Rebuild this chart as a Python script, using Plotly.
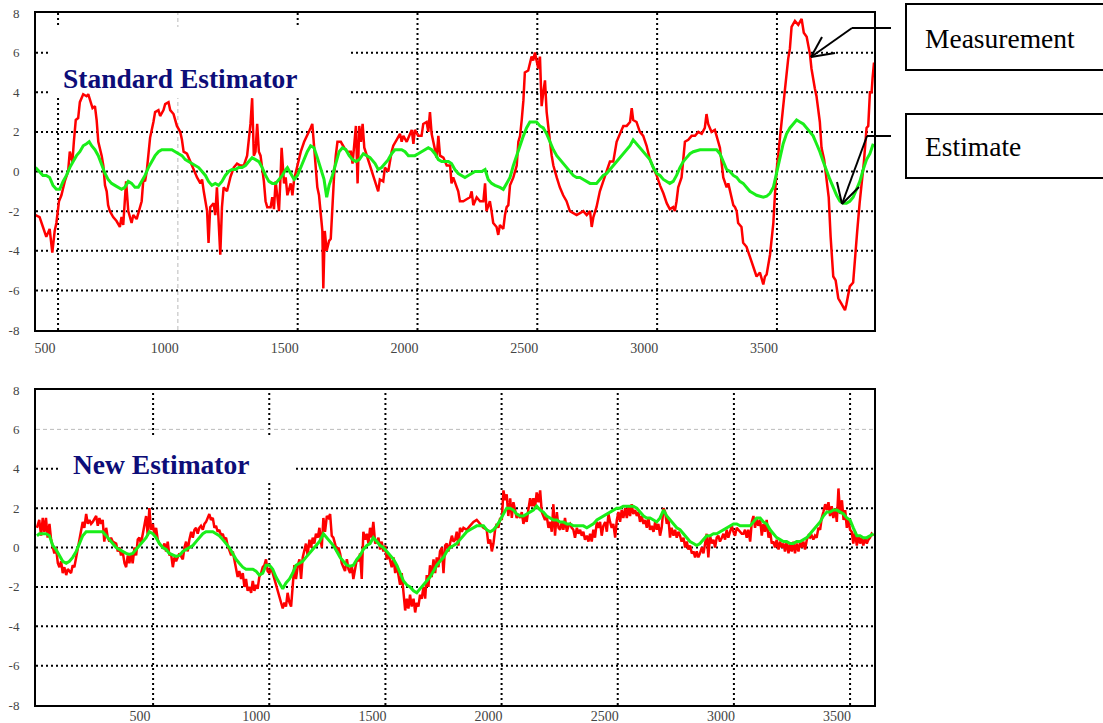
import plotly.graph_objects as go

# ---------------- data ----------------
# Standard estimator panel
std_meas_x = [406, 423, 437, 451, 465, 476, 486, 493, 504, 514, 528, 542, 549, 560, 566, 574, 584, 591, 605, 619,
              626, 635, 644, 654, 661, 668, 675, 682, 689, 696, 703, 709, 716, 730, 744, 758, 765, 772, 784, 793,
              807, 814, 828, 842, 849, 856, 863, 870, 877, 884, 898, 905, 919, 926, 940, 947, 961, 968, 982, 996,
              1010, 1017, 1024, 1038, 1052, 1066, 1080, 1094, 1101, 1108, 1122, 1128, 1135, 1149, 1156, 1163, 1170, 1177, 1184, 1191,
              1205, 1219, 1233, 1247, 1261, 1275, 1289, 1296, 1303, 1310, 1317, 1324, 1331, 1338, 1345, 1359, 1366, 1373, 1387, 1394,
              1401, 1408, 1415, 1422, 1429, 1433, 1443, 1450, 1457, 1471, 1478, 1485, 1499, 1513, 1527, 1540, 1554, 1561, 1568, 1575,
              1582, 1589, 1596, 1603, 1607, 1613, 1621, 1631, 1638, 1645, 1652, 1659, 1666, 1680, 1694, 1708, 1722, 1729, 1743, 1750,
              1757, 1764, 1771, 1778, 1788, 1802, 1816, 1830, 1836, 1843, 1857, 1864, 1878, 1892, 1899, 1913, 1927, 1934, 1941, 1955,
              1969, 1976, 1983, 1989, 2003, 2017, 2024, 2038, 2045, 2052, 2059, 2073, 2080, 2087, 2094, 2108, 2122, 2136, 2142, 2149,
              2163, 2170, 2177, 2191, 2205, 2219, 2226, 2233, 2247, 2261, 2275, 2282, 2288, 2302, 2309, 2316, 2330, 2337, 2344, 2358,
              2365, 2372, 2379, 2386, 2400, 2414, 2421, 2428, 2435, 2442, 2448, 2462, 2476, 2483, 2490, 2497, 2504, 2511, 2518, 2525,
              2532, 2539, 2546, 2553, 2560, 2567, 2581, 2594, 2608, 2622, 2636, 2650, 2664, 2678, 2692, 2706, 2720, 2727, 2734, 2747,
              2761, 2775, 2789, 2803, 2817, 2831, 2845, 2859, 2873, 2887, 2894, 2900, 2914, 2928, 2942, 2956, 2970, 2984, 2998, 3012,
              3026, 3040, 3053, 3067, 3074, 3081, 3088, 3102, 3116, 3130, 3144, 3158, 3172, 3186, 3199, 3206, 3213, 3227, 3241, 3248,
              3262, 3276, 3290, 3297, 3304, 3318, 3325, 3332, 3338, 3352, 3359, 3373, 3387, 3401, 3415, 3429, 3443, 3450, 3457, 3471,
              3485, 3491, 3498, 3510, 3519, 3533, 3547, 3554, 3561, 3575, 3589, 3603, 3612, 3624, 3638, 3644, 3658, 3665, 3679, 3686,
              3697, 3707, 3716, 3724, 3735, 3745, 3756, 3770, 3784, 3790, 3804, 3818, 3825, 3835, 3845, 3853, 3863, 3874, 3881, 3888,
              3895, 3899, 3905]
std_meas_y = [-2.2, -2.3, -2.8, -3.3, -2.9, -4.1, -3.0, -2.6, -1.5, -1.2, -0.5, 0.0, 1.0, 0.5, 1.5, 2.6, 2.7, 3.5, 3.9, 3.8,
              3.9, 3.6, 3.2, 3.3, 2.6, 1.5, 1.2, 0.8, 0.3, -0.7, -1.0, -1.7, -2.0, -2.3, -2.5, -2.8, -2.3, -2.7, -0.5, -2.0,
              -2.6, -2.2, -2.4, -1.8, -1.5, -0.4, -0.5, 0.0, 0.9, 1.7, 2.5, 3.0, 3.1, 2.8, 3.1, 3.4, 3.5, 3.1, 2.9, 2.3,
              2.0, 1.6, 1.0, 0.9, 0.5, 0.1, -0.3, -0.6, -0.4, -1.0, -2.0, -3.6, -1.8, -1.6, -2.2, -0.8, -2.2, -4.2, -1.8, -0.8,
              -1.0, -0.3, 0.2, 0.4, 0.3, 0.3, 0.8, 1.5, 2.4, 3.7, 0.8, 1.0, 2.4, 1.0, 0.8, -0.5, -1.5, -1.8, -1.8, -1.3,
              -1.9, -0.5, -1.3, -2.0, -0.1, 1.2, -0.6, -0.3, -1.2, -0.6, -1.2, -0.4, 0.3, 1.0, 1.5, 1.8, 2.2, 2.4, 1.4, 0.5,
              -0.8, -1.2, -2.0, -3.0, -5.9, -3.0, -4.0, -3.5, -3.4, -1.5, -0.2, 0.8, 1.5, 1.5, 1.2, 1.0, 1.0, 0.4, 2.3, -0.6,
              2.3, 1.5, 2.4, 1.2, 0.8, 0.3, -0.3, -0.8, -1.0, -0.4, -0.5, 0.2, 0.0, 1.0, 1.3, 1.6, 1.9, 1.5, 1.8, 1.5,
              1.9, 2.1, 1.4, 2.1, 1.8, 1.8, 2.4, 2.5, 2.0, 3.0, 1.9, 1.2, 0.7, 1.8, 0.8, 0.7, 0.3, 0.3, -0.6, -0.3,
              -0.8, -1.0, -1.5, -1.5, -1.4, -1.3, -1.0, -1.7, -1.3, -1.5, -1.5, -0.6, -2.0, -1.5, -2.0, -2.6, -2.8, -3.2, -2.7, -2.9,
              -2.2, -1.8, -1.7, -0.7, -0.3, 0.3, 1.5, 1.8, 2.6, 3.6, 5.0, 5.1, 5.8, 5.6, 6.0, 5.5, 5.2, 5.8, 3.3, 4.0,
              4.6, 3.0, 2.1, 1.5, 0.8, 0.3, -0.3, -0.8, -1.2, -1.5, -2.0, -2.1, -2.2, -2.1, -2.0, -2.2, -2.0, -2.8, -2.3, -1.8,
              -1.0, -0.5, 0.0, 0.5, 0.5, 1.5, 1.9, 2.3, 2.3, 2.5, 3.2, 2.6, 2.5, 2.0, 1.8, 1.3, 0.6, 0.2, -0.2, -0.7,
              -1.1, -1.6, -1.9, -1.8, -2.0, -1.5, -0.8, -0.3, 1.5, 1.6, 1.8, 1.8, 2.0, 1.9, 2.2, 2.9, 2.4, 2.0, 2.1, 1.8,
              1.2, -0.3, -0.8, -0.6, -1.0, -1.7, -1.8, -2.0, -2.6, -2.8, -3.6, -3.8, -4.3, -4.8, -5.3, -5.1, -5.7, -5.3, -5.2, -4.2,
              -2.6, -1.3, 0.0, 1.4, 2.6, 4.1, 5.7, 6.2, 7.3, 7.6, 7.4, 7.7, 7.0, 6.8, 5.9, 5.2, 4.2, 3.8, 2.5, 1.2,
              0.6, -0.5, -1.3, -3.3, -5.3, -5.5, -6.4, -6.7, -7.0, -6.7, -5.8, -5.6, -4.3, -3.0, -1.6, -0.7, 0.5, 2.2, 2.3, 4.0,
              4.0, 4.7, 5.5]

std_est_x = [406, 423, 437, 451, 465, 479, 493, 507, 521, 535, 549, 563, 577, 591, 605, 619, 630, 640, 654, 668,
             682, 696, 709, 723, 737, 751, 765, 779, 793, 807, 821, 835, 849, 863, 877, 891, 905, 919, 933, 947,
             961, 975, 989, 1003, 1017, 1031, 1045, 1059, 1073, 1087, 1101, 1115, 1128, 1142, 1156, 1170, 1184, 1198, 1212, 1226,
             1240, 1254, 1268, 1282, 1296, 1310, 1324, 1338, 1352, 1366, 1380, 1394, 1408, 1422, 1436, 1450, 1457, 1471, 1485, 1499,
             1513, 1527, 1540, 1554, 1568, 1582, 1596, 1610, 1621, 1631, 1645, 1659, 1673, 1687, 1701, 1715, 1729, 1743, 1757, 1774,
             1788, 1802, 1823, 1836, 1850, 1864, 1878, 1892, 1906, 1920, 1934, 1948, 1962, 1976, 1989, 2003, 2017, 2031, 2045, 2059,
             2073, 2087, 2101, 2115, 2129, 2142, 2156, 2170, 2184, 2198, 2212, 2226, 2240, 2254, 2268, 2282, 2295, 2309, 2323, 2344,
             2358, 2372, 2386, 2400, 2414, 2428, 2442, 2455, 2469, 2483, 2497, 2511, 2525, 2539, 2553, 2567, 2581, 2594, 2608, 2622,
             2636, 2650, 2664, 2678, 2692, 2706, 2720, 2734, 2747, 2761, 2775, 2789, 2803, 2817, 2831, 2845, 2859, 2873, 2887, 2900,
             2914, 2928, 2942, 2956, 2970, 2984, 2998, 3012, 3026, 3040, 3053, 3067, 3081, 3095, 3109, 3123, 3137, 3151, 3179, 3206,
             3234, 3248, 3262, 3276, 3290, 3304, 3318, 3332, 3345, 3359, 3373, 3387, 3401, 3415, 3429, 3443, 3457, 3471, 3485, 3498,
             3512, 3526, 3540, 3554, 3568, 3582, 3596, 3610, 3624, 3638, 3651, 3665, 3679, 3693, 3707, 3721, 3735, 3749, 3763, 3777,
             3790, 3804, 3818, 3832, 3846, 3860, 3874, 3888, 3902]
std_est_y = [0.2, 0.0, -0.2, -0.2, -0.3, -0.7, -0.9, -0.9, -0.5, -0.2, 0.2, 0.5, 0.8, 1.0, 1.3, 1.4, 1.5, 1.3, 1.1, 0.8,
             0.3, -0.1, -0.4, -0.6, -0.7, -0.8, -0.9, -0.8, -0.5, -0.6, -0.8, -0.8, -0.5, -0.2, 0.2, 0.5, 0.8, 1.0, 1.1, 1.1,
             1.1, 1.1, 1.0, 0.9, 0.8, 0.6, 0.5, 0.4, 0.3, 0.2, 0.0, -0.2, -0.5, -0.7, -0.6, -0.7, -0.5, -0.2, 0.0, 0.1,
             0.1, 0.2, 0.2, 0.3, 0.5, 0.7, 0.6, 0.5, 0.2, -0.2, -0.5, -0.6, -0.6, -0.4, -0.2, 0.1, 0.2, -0.1, -0.4, -0.2,
             0.2, 0.6, 1.0, 1.3, 1.2, 0.7, 0.1, -0.4, -1.3, -0.7, -0.2, 0.4, 1.0, 1.2, 1.1, 0.8, 0.6, 0.5, 0.6, 0.9,
             0.8, 0.7, 0.4, 0.1, 0.2, 0.4, 0.6, 0.9, 1.1, 1.1, 1.1, 1.0, 0.8, 0.8, 0.8, 0.9, 1.0, 1.1, 1.2, 1.1,
             0.9, 0.6, 0.5, 0.5, 0.5, 0.4, 0.1, -0.1, -0.2, -0.3, -0.2, -0.1, 0.0, 0.0, 0.0, 0.1, -0.4, -0.6, -0.7, -0.8,
             -0.9, -0.6, -0.3, 0.3, 0.8, 1.4, 1.8, 2.2, 2.5, 2.5, 2.5, 2.3, 2.2, 1.9, 1.5, 1.1, 0.8, 0.6, 0.4, 0.2,
             0.0, -0.2, -0.3, -0.3, -0.4, -0.5, -0.6, -0.6, -0.6, -0.4, -0.2, -0.1, 0.1, 0.3, 0.5, 0.7, 0.9, 1.1, 1.3, 1.6,
             1.4, 1.2, 1.0, 0.8, 0.6, 0.2, -0.1, -0.2, -0.4, -0.5, -0.6, -0.5, -0.2, 0.2, 0.5, 0.7, 0.9, 1.0, 1.1, 1.1,
             1.1, 1.1, 0.9, 0.5, 0.1, 0.0, -0.2, -0.3, -0.5, -0.6, -0.8, -1.0, -1.1, -1.2, -1.25, -1.3, -1.25, -1.1, -0.8, -0.1,
             0.8, 1.4, 1.9, 2.2, 2.4, 2.6, 2.5, 2.4, 2.2, 2.0, 1.8, 1.4, 1.0, 0.5, 0.0, -0.4, -0.8, -1.2, -1.5, -1.6,
             -1.6, -1.5, -1.3, -0.9, -0.5, 0.1, 0.6, 0.9, 1.4]

# New estimator panel
new_meas_x = [0, 10, 18, 25, 32, 39, 46, 54, 61, 68, 75, 82, 90, 97, 104, 111, 118, 126, 133, 140,
              147, 154, 161, 169, 176, 183, 190, 197, 204, 212, 219, 226, 233, 240, 255, 262, 269, 276, 283, 290,
              298, 305, 312, 319, 326, 341, 348, 355, 362, 369, 377, 384, 391, 398, 405, 412, 420, 427, 434, 441,
              448, 456, 463, 470, 477, 484, 491, 499, 506, 513, 520, 527, 542, 549, 556, 563, 570, 577, 585, 592,
              599, 613, 628, 635, 642, 649, 656, 664, 671, 678, 685, 692, 699, 706, 714, 721, 728, 735, 742, 749,
              757, 764, 771, 778, 785, 793, 800, 807, 814, 821, 828, 836, 843, 850, 857, 864, 871, 879, 886, 893,
              900, 907, 914, 922, 929, 936, 943, 950, 957, 965, 972, 979, 986, 993, 1001, 1008, 1015, 1022, 1029, 1037,
              1044, 1051, 1058, 1065, 1072, 1079, 1087, 1094, 1101, 1108, 1115, 1123, 1130, 1137, 1144, 1151, 1158, 1165, 1173, 1180,
              1187, 1194, 1201, 1209, 1216, 1226, 1233, 1240, 1248, 1255, 1262, 1269, 1276, 1283, 1291, 1298, 1305, 1312, 1319, 1326,
              1334, 1341, 1348, 1355, 1362, 1369, 1377, 1384, 1391, 1398, 1405, 1413, 1420, 1427, 1434, 1441, 1448, 1456, 1463, 1470,
              1477, 1484, 1491, 1499, 1506, 1513, 1520, 1527, 1535, 1542, 1549, 1556, 1563, 1570, 1578, 1585, 1592, 1599, 1606, 1613,
              1621, 1628, 1635, 1642, 1649, 1656, 1664, 1671, 1678, 1685, 1692, 1699, 1707, 1714, 1721, 1728, 1735, 1743, 1750, 1757,
              1764, 1771, 1778, 1786, 1793, 1800, 1807, 1814, 1821, 1829, 1836, 1850, 1864, 1879, 1893, 1907, 1922, 1936, 1943, 1951,
              1958, 1965, 1972, 1979, 1986, 1994, 2001, 2008, 2015, 2022, 2029, 2037, 2044, 2051, 2058, 2065, 2072, 2080, 2087, 2094,
              2101, 2108, 2115, 2123, 2130, 2137, 2144, 2151, 2159, 2166, 2173, 2180, 2187, 2194, 2202, 2209, 2216, 2223, 2230, 2238,
              2245, 2252, 2259, 2266, 2273, 2281, 2288, 2295, 2302, 2309, 2316, 2324, 2331, 2338, 2345, 2352, 2359, 2367, 2374, 2381,
              2388, 2395, 2402, 2410, 2417, 2424, 2431, 2438, 2446, 2453, 2460, 2467, 2474, 2481, 2489, 2496, 2503, 2510, 2517, 2524,
              2532, 2539, 2546, 2553, 2560, 2567, 2575, 2582, 2589, 2596, 2603, 2611, 2618, 2625, 2632, 2639, 2646, 2654, 2661, 2668,
              2675, 2682, 2689, 2697, 2704, 2711, 2718, 2725, 2732, 2740, 2747, 2754, 2761, 2768, 2775, 2783, 2790, 2797, 2804, 2811,
              2819, 2826, 2833, 2840, 2847, 2854, 2862, 2869, 2876, 2883, 2890, 2897, 2905, 2912, 2919, 2926, 2933, 2940, 2948, 2955,
              2962, 2969, 2976, 2984, 2991, 2998, 3005, 3012, 3019, 3027, 3034, 3041, 3048, 3055, 3062, 3070, 3077, 3084, 3091, 3098,
              3105, 3113, 3120, 3127, 3134, 3141, 3149, 3156, 3163, 3170, 3177, 3184, 3192, 3199, 3206, 3213, 3220, 3227, 3235, 3242,
              3249, 3256, 3263, 3270, 3278, 3285, 3292, 3299, 3306, 3314, 3321, 3328, 3335, 3342, 3349, 3356, 3364, 3371, 3378, 3385,
              3393, 3400, 3407, 3414, 3421, 3428, 3436, 3443, 3450, 3457, 3465, 3472, 3479, 3486, 3493, 3500, 3507, 3514, 3521, 3529,
              3536, 3543, 3550, 3557, 3565, 3572, 3579, 3586, 3593, 3601]
new_meas_y = [1.0, 1.4, 0.6, 1.5, 0.8, 1.5, 0.5, 1.2, 0.4, 0.0, -0.3, 0.0, -0.8, -1.0, -0.7, -1.3, -1.0, -1.4, -1.1, -1.2,
              -1.3, -0.9, -1.0, -0.5, 0.0, 0.3, 0.8, 1.3, 1.0, 1.7, 1.2, 1.4, 1.2, 1.3, 1.6, 1.1, 1.5, 1.2, 1.4, 0.3,
              1.0, 0.5, 0.3, 0.5, 0.3, 0.2, -0.2, 0.0, -0.4, -0.2, -0.8, -1.0, -0.4, -0.8, -0.3, -0.8, 0.0, -0.4, 0.4, 0.5,
              0.2, 0.7, 1.0, 1.6, 0.6, 2.0, 0.9, 1.2, 0.6, 1.0, 0.4, 0.2, 0.0, 0.2, -0.2, 0.3, -0.4, -0.3, -1.0, -0.5,
              -0.7, -0.3, -0.6, 0.0, 0.3, -0.2, 0.4, 0.8, 0.5, 0.9, 1.0, 0.7, 1.0, 1.1, 0.9, 1.2, 1.3, 1.5, 1.7, 1.4,
              1.5, 1.0, 1.1, 0.8, 0.9, 0.6, 0.7, 0.4, 0.5, 0.1, -0.2, -0.4, -0.2, -0.6, -1.0, -1.5, -1.2, -1.6, -1.3, -2.0,
              -1.6, -2.2, -2.0, -2.3, -1.7, -2.2, -1.9, -2.1, -1.5, -1.3, -1.0, -0.9, -0.6, -1.2, -1.3, -1.0, -1.3, -1.6, -1.9, -2.3,
              -2.6, -2.9, -3.1, -2.8, -3.0, -2.3, -2.8, -3.0, -2.0, -0.9, -1.6, -0.9, -0.6, -1.6, -0.5, -0.1, 0.2, -0.4, 0.4, 0.0,
              0.5, 0.2, 0.7, 0.5, 1.0, 0.0, 1.5, 0.8, 1.6, 1.5, 1.7, 0.6, 0.5, 0.2, -0.2, 0.0, -0.3, -0.8, -1.0, -1.2,
              -0.6, -1.1, -1.3, -0.9, -1.6, -1.2, -0.6, -0.7, -0.3, -1.6, 0.8, 0.4, 0.7, 0.2, 1.0, 0.5, 1.3, 0.2, 0.3, 0.5,
              -0.1, 0.3, -0.2, 0.1, -0.6, -0.3, -0.6, -1.0, -0.5, -1.3, -0.9, -1.4, -1.9, -1.3, -2.3, -3.2, -2.6, -3.1, -2.4, -3.0,
              -2.6, -3.3, -2.8, -3.0, -2.4, -2.6, -2.0, -2.6, -1.4, -2.0, -0.9, -1.5, -0.6, -1.3, -0.5, -1.0, -0.2, 0.0, -1.3, 0.1,
              0.2, -0.2, 0.2, 0.6, 0.3, 0.4, 0.8, 0.1, 1.0, 0.8, 1.0, 0.9, 1.1, 1.3, 1.4, 1.2, 1.0, 0.9, 0.2, 0.4,
              -0.2, 0.2, 0.9, 1.2, 1.0, 1.5, 1.4, 2.9, 2.4, 2.7, 1.6, 2.5, 1.5, 2.3, 1.9, 1.5, 1.7, 1.5, 1.8, 1.2,
              1.6, 1.3, 1.9, 2.5, 2.1, 2.5, 2.0, 2.8, 2.3, 2.9, 1.8, 1.6, 1.4, 1.6, 1.0, 1.3, 0.8, 2.2, 0.6, 1.8,
              1.0, 0.9, 1.3, 0.9, 1.5, 0.8, 1.1, 1.2, 1.0, 0.9, 0.5, 1.0, 0.7, 0.9, 0.6, 0.8, 0.4, 0.6, 0.3, 0.7,
              0.3, 0.9, 0.5, 1.3, 1.0, 1.3, 0.6, 1.1, 1.3, 0.8, 1.7, 1.3, 1.0, 1.2, 0.5, 1.4, 1.8, 1.3, 1.9, 1.5,
              2.0, 1.5, 2.1, 1.6, 2.2, 1.7, 1.9, 1.6, 1.8, 1.3, 1.6, 1.2, 1.4, 1.0, 1.5, 0.9, 1.1, 0.8, 1.3, 0.9,
              1.2, 0.6, 1.0, 2.0, 1.8, 1.2, 1.5, 0.5, 1.0, 0.6, 0.9, 0.5, 0.8, 0.6, 0.3, 0.5, 0.0, 0.3, -0.1, 0.1,
              -0.3, -0.2, -0.5, -0.2, -0.5, -0.3, 0.0, -0.3, 0.3, 0.7, -0.5, 0.6, 0.2, 0.4, 0.0, 0.5, 0.6, 0.3, 0.5, 0.7,
              0.4, 0.9, 0.5, 0.8, 1.1, 0.8, 0.6, 1.0, 0.9, 0.8, 0.7, 0.7, 0.9, 0.5, 0.9, 0.3, 1.3, 1.6, 1.0, 1.5,
              1.1, 1.4, 0.6, 1.2, 0.8, 1.4, 0.5, 0.8, 0.2, 0.3, 0.0, 0.4, -0.1, 0.3, 0.0, 0.2, -0.2, 0.3, -0.3, 0.2,
              -0.2, 0.3, -0.3, 0.2, -0.2, 0.3, 0.0, 0.3, -0.1, 0.4, 0.6, 0.5, 0.6, 0.4, 0.6, 0.5, 1.0, 0.9, 1.5, 1.8,
              2.2, 1.9, 2.3, 1.6, 2.1, 1.5, 2.0, 1.3, 3.0, 1.7, 2.4, 1.4, 1.9, 1.0, 1.4, 0.9, 0.8, 0.2, 0.8, 0.1,
              0.6, 0.2, 0.5, 0.1, 0.5, 0.2, 0.4, 0.5, 0.7, 0.6]

new_est_x = [0, 11, 25, 39, 54, 68, 82, 97, 111, 126, 140, 154, 169, 183, 197, 212, 240, 269, 283, 298,
             312, 326, 341, 355, 369, 384, 398, 412, 427, 441, 456, 470, 484, 499, 513, 527, 542, 556, 570, 585,
             599, 613, 628, 642, 656, 671, 685, 699, 714, 728, 742, 757, 771, 785, 800, 814, 828, 843, 857, 871,
             886, 900, 914, 929, 943, 957, 972, 986, 1001, 1015, 1029, 1044, 1058, 1072, 1087, 1101, 1115, 1130, 1144, 1158,
             1173, 1187, 1201, 1216, 1233, 1248, 1262, 1276, 1291, 1305, 1319, 1334, 1348, 1362, 1377, 1391, 1405, 1420, 1434, 1448,
             1463, 1477, 1491, 1506, 1520, 1535, 1549, 1563, 1578, 1592, 1606, 1621, 1635, 1649, 1664, 1678, 1692, 1707, 1721, 1735,
             1750, 1764, 1778, 1793, 1807, 1821, 1836, 1850, 1864, 1879, 1893, 1907, 1922, 1936, 1951, 1965, 1979, 1994, 2008, 2022,
             2037, 2051, 2065, 2080, 2094, 2108, 2123, 2137, 2151, 2166, 2180, 2194, 2209, 2223, 2238, 2252, 2266, 2281, 2295, 2309,
             2324, 2338, 2352, 2367, 2381, 2395, 2410, 2424, 2438, 2453, 2467, 2481, 2496, 2510, 2524, 2539, 2553, 2567, 2582, 2596,
             2611, 2625, 2639, 2654, 2668, 2682, 2697, 2711, 2725, 2740, 2754, 2768, 2783, 2797, 2811, 2826, 2840, 2854, 2869, 2883,
             2897, 2912, 2926, 2940, 2955, 2969, 2984, 2998, 3012, 3027, 3041, 3055, 3070, 3084, 3098, 3113, 3127, 3141, 3156, 3170,
             3184, 3199, 3213, 3227, 3242, 3256, 3270, 3285, 3299, 3314, 3328, 3342, 3356, 3371, 3385, 3400, 3414, 3428, 3443, 3457,
             3472, 3486, 3500, 3514, 3529, 3543, 3557, 3572, 3586, 3601]
new_est_y = [0.6, 0.7, 0.7, 0.7, 0.6, 0.1, -0.1, -0.4, -0.7, -0.8, -0.7, -0.5, -0.2, 0.2, 0.6, 0.8, 0.8, 0.8, 0.8, 0.6,
             0.4, 0.2, 0.0, -0.1, -0.2, -0.3, -0.35, -0.3, -0.1, 0.1, 0.3, 0.5, 0.8, 0.7, 0.5, 0.2, 0.0, -0.1, -0.3, -0.4,
             -0.45, -0.4, -0.2, -0.1, 0.0, 0.1, 0.3, 0.5, 0.7, 0.8, 0.8, 0.8, 0.7, 0.6, 0.4, 0.2, 0.0, -0.3, -0.6, -0.8,
             -1.0, -1.1, -1.1, -1.1, -1.2, -1.4, -1.3, -0.9, -0.9, -1.1, -1.5, -1.8, -2.1, -1.8, -1.6, -1.3, -0.9, -0.8, -0.7, -0.5,
             -0.3, -0.1, 0.1, 0.3, 0.7, 0.5, 0.3, 0.1, -0.2, -0.5, -0.7, -0.9, -0.95, -0.9, -0.6, -0.4, -0.1, 0.1, 0.2, 0.5,
             0.3, 0.1, 0.0, -0.2, -0.4, -0.6, -0.9, -1.3, -1.7, -1.9, -2.0, -2.2, -2.3, -2.1, -1.9, -1.7, -1.5, -1.2, -0.9, -0.7,
             -0.5, -0.2, 0.0, 0.1, 0.2, 0.4, 0.6, 0.8, 0.9, 1.0, 1.1, 1.1, 1.1, 0.9, 0.8, 0.9, 1.1, 1.4, 1.7, 2.0,
             2.0, 1.9, 1.7, 1.6, 1.6, 1.7, 1.8, 1.9, 2.1, 1.9, 1.8, 1.6, 1.5, 1.4, 1.4, 1.3, 1.3, 1.2, 1.2, 1.1,
             1.1, 1.1, 1.1, 1.0, 1.1, 1.2, 1.4, 1.5, 1.6, 1.7, 1.8, 1.9, 2.0, 2.0, 2.1, 2.1, 2.1, 2.1, 2.0, 1.8,
             1.6, 1.5, 1.5, 1.4, 1.3, 1.5, 1.9, 1.6, 1.4, 1.2, 1.0, 0.9, 0.7, 0.5, 0.3, 0.2, 0.1, 0.2, 0.4, 0.6,
             0.6, 0.7, 0.7, 0.8, 0.9, 1.0, 1.1, 1.2, 1.2, 1.1, 1.1, 1.1, 1.1, 1.3, 1.5, 1.5, 1.3, 1.2, 0.9, 0.7,
             0.5, 0.4, 0.3, 0.3, 0.2, 0.2, 0.3, 0.3, 0.4, 0.5, 0.7, 0.9, 1.1, 1.3, 1.6, 1.8, 1.8, 1.9, 1.9, 1.8,
             1.7, 1.5, 1.4, 1.0, 0.6, 0.6, 0.5, 0.5, 0.6, 0.7]

# axis ticks
y_ticks = [-8, -6, -4, -2, 0, 2, 4, 6, 8]
y_tick_labels = ["-8", "-6", "-4", "-2", "0", "2", "4", "6", "8"]
x_ticks = [500, 1000, 1500, 2000, 2500, 3000, 3500]
x_tick_labels = ["500", "1000", "1500", "2000", "2500", "3000", "3500"]

# ---------------- layout helpers ----------------
W, H = 1103, 723
ML, MR, MT, MB = 36, 229, 13, 18
PW = W - ML - MR
PH = H - MT - MB
TOP_Y0, TOP_Y1 = 330, 13      # pixel rows of the upper panel (bottom, top)
BOT_Y0, BOT_Y1 = 705, 390      # pixel rows of the lower panel (bottom, top)


def fx(p):
    """pixel column -> paper x"""
    return (p - ML) / PW


def fy(p):
    """pixel row -> paper y"""
    return (H - MB - p) / PH


RED = "#ff0000"
GREEN = "#1aee1a"
NAVY = "#0d0d78"
SERIF = "Liberation Serif, Times New Roman, serif"

fig = go.Figure()
fig.add_trace(go.Scatter(x=std_meas_x, y=std_meas_y, mode="lines", line=dict(color=RED, width=2.5),
                         xaxis="x", yaxis="y", name="Measurement"))
fig.add_trace(go.Scatter(x=std_est_x, y=std_est_y, mode="lines", line=dict(color=GREEN, width=3),
                         xaxis="x", yaxis="y", name="Estimate"))
fig.add_trace(go.Scatter(x=new_meas_x, y=new_meas_y, mode="lines", line=dict(color=RED, width=2.5),
                         xaxis="x2", yaxis="y2", name="Measurement"))
fig.add_trace(go.Scatter(x=new_est_x, y=new_est_y, mode="lines", line=dict(color=GREEN, width=3),
                         xaxis="x2", yaxis="y2", name="Estimate"))

y_font = dict(family=SERIF, size=13, color="#444444")
x_font = dict(family=SERIF, size=14, color="#444444")
common_x = dict(tickvals=x_ticks, ticktext=x_tick_labels, showgrid=False, zeroline=False,
                showline=True, linecolor="black", linewidth=2, mirror=True, ticks="",
                tickfont=x_font, ticklabelshift=-13, automargin=False)
common_y = dict(range=[-8, 8], tickvals=y_ticks, ticktext=y_tick_labels, showgrid=False, zeroline=False,
                showline=True, linecolor="black", linewidth=2, mirror=True, ticks="",
                tickfont=y_font, ticklabelstandoff=12, automargin=False)

fig.update_layout(
    width=W, height=H,
    margin=dict(l=ML, r=MR, t=MT, b=MB, autoexpand=False),
    paper_bgcolor="white", plot_bgcolor="white",
    showlegend=False,
    xaxis=dict(domain=[0, 1], range=[408, 3905], anchor="y", ticklabelstandoff=4, **common_x),
    yaxis=dict(domain=[fy(TOP_Y0), fy(TOP_Y1)], anchor="x", **common_y),
    xaxis2=dict(domain=[0, 1], range=[-4, 3603], anchor="y2", ticklabelstandoff=-3, **common_x),
    yaxis2=dict(domain=[fy(BOT_Y0), fy(BOT_Y1)], anchor="x2", **common_y),
)

# dotted grid lines at the tick positions
shapes = []
faint = {("x", 1000), ("y2", 6)}
for xa, ya in (("x", "y"), ("x2", "y2")):
    for v in x_ticks:
        gray = (xa, v) in faint
        shapes.append(dict(type="line", xref=xa, yref=f"{ya} domain", x0=v, x1=v, y0=0, y1=1,
                           layer="below",
                           line=dict(color="#bbbbbb" if gray else "black",
                                     width=1 if gray else 2,
                                     dash="4px,3px" if gray else "2px,3px")))
    for v in y_ticks[1:-1]:
        gray = (ya, v) in faint
        shapes.append(dict(type="line", xref=f"{xa} domain", yref=ya, x0=0, x1=1, y0=v, y1=v,
                           layer="below",
                           line=dict(color="#bbbbbb" if gray else "black",
                                     width=1 if gray else 2,
                                     dash="4px,3px" if gray else "2px,3px")))


def panel_rect(xa, ya, x0, x1, y0, y1, pb, pt):
    """white backing rectangle given in pixel units inside a panel"""
    return dict(type="rect", xref=f"{xa} domain", yref=f"{ya} domain", layer="below",
                x0=(x0 - ML) / PW, x1=(x1 - ML) / PW,
                y0=(pb - y1) / (pb - pt), y1=(pb - y0) / (pb - pt),
                line=dict(width=0), fillcolor="white")


# white backing behind the panel titles
shapes.append(panel_rect("x", "y", 50, 350, 27, 98, TOP_Y0, TOP_Y1))
shapes.append(panel_rect("x2", "y2", 60, 293, 435, 483, BOT_Y0, BOT_Y1))

# callout boxes and leader arrows
box_line = dict(color="black", width=2)
shapes.append(dict(type="rect", xref="paper", yref="paper", x0=fx(906), x1=fx(1112), y0=fy(70), y1=fy(4),
                   line=box_line, fillcolor="white"))
shapes.append(dict(type="rect", xref="paper", yref="paper", x0=fx(906), x1=fx(1112), y0=fy(178), y1=fy(114),
                   line=box_line, fillcolor="white"))
leaders = [
    ((891, 28), (852, 28)), ((852, 28), (811, 57)), ((811, 57), (822, 37)), ((811, 57), (835, 53)),
    ((891, 136), (867, 136)), ((867, 136), (842, 204)), ((842, 204), (837, 182)), ((842, 204), (859, 187)),
]
for (a, b) in leaders:
    shapes.append(dict(type="line", xref="paper", yref="paper", x0=fx(a[0]), y0=fy(a[1]),
                       x1=fx(b[0]), y1=fy(b[1]), line=dict(color="black", width=2)))
fig.update_layout(shapes=shapes)

title_font = dict(family=SERIF, size=27.5, color=NAVY)
label_font = dict(family=SERIF, size=27.5, color="black")
fig.add_annotation(text="<b>Standard Estimator</b>", xref="paper", yref="paper", x=fx(61), y=fy(79),
                   xanchor="left", yanchor="middle", showarrow=False, font=title_font)
fig.add_annotation(text="<b>New Estimator</b>", xref="paper", yref="paper", x=fx(71), y=fy(465),
                   xanchor="left", yanchor="middle", showarrow=False, font=title_font)
fig.add_annotation(text="Measurement", xref="paper", yref="paper", x=fx(923), y=fy(38),
                   xanchor="left", yanchor="middle", showarrow=False, font=label_font)
fig.add_annotation(text="Estimate", xref="paper", yref="paper", x=fx(923), y=fy(146),
                   xanchor="left", yanchor="middle", showarrow=False, font=label_font)

fig.write_html("out.html")
